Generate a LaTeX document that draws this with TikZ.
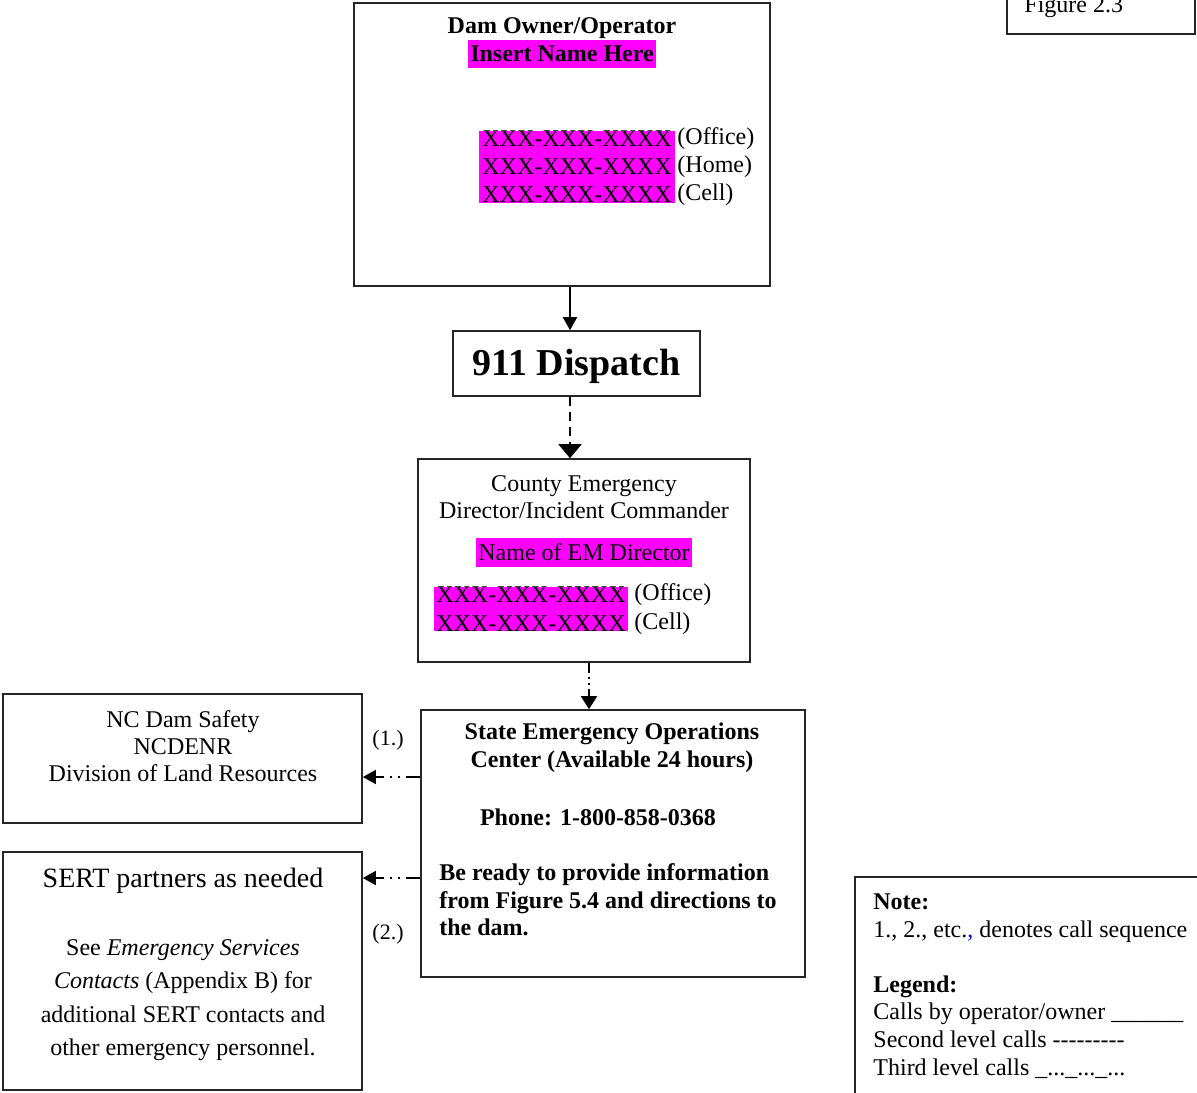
\documentclass[tikz,border=0pt]{standalone}
\usepackage{fontspec}
\setmainfont{Liberation Serif}
\usetikzlibrary{positioning,arrows.meta}

\definecolor{hotpink}{RGB}{255,0,255}
\tikzset{
	box/.style={draw=black!85, line width=0.8pt, rectangle, inner sep=0pt},
	hilite/.style={fill=hotpink, inner xsep=1pt, inner ysep=0pt},
	txt/.style={font=\fontsize{12}{13.5}\selectfont, inner sep=0pt},
	callhead/.style={-{Triangle[width=7pt,length=6.5pt]}},
}

\begin{document}
\begin{tikzpicture}[x=0.5pt, y=-0.5pt]
	\clip (0,0) rectangle (1197,1092);

	% boxes
	\node (owner) at (562,144.5) [box, minimum width=208pt, minimum height=141.5pt] {};
	\node (dispatch) at (576.5,363.5) [box, minimum width=123.5pt, minimum height=32.5pt] {};
	\node (county) at (584,560.5) [box, minimum width=166pt, minimum height=101.5pt] {};
	\node (state) at (613,843.5) [box, minimum width=192pt, minimum height=133.5pt] {};
	\node (dlr) at (182.5,758.5) [box, minimum width=179.5pt, minimum height=64.5pt] {};
	\node (sert) at (182.5,971) [box, minimum width=179.5pt, minimum height=119pt] {};
	\node (legend) at (1032.5,993.5) [box, minimum width=177.5pt, minimum height=116.5pt] {};
	\node (figbox) at (1101,2) [box, minimum width=94pt, minimum height=32pt] {};

	% dam owner
	\node (ownertitle) at (562,28) [txt, font=\fontsize{12}{13.5}\selectfont\bfseries] {Dam Owner/Operator};
	\node (ownername) at (562,54) [txt, hilite, minimum height=14pt, font=\fontsize{12}{13.5}\selectfont\bfseries] {Insert Name Here};
	\node (ownerphone) at (577,167) [txt, hilite, inner xsep=1.5pt, align=left, font=\fontsize{12}{14}\selectfont] {XXX-XXX-XXXX\\XXX-XXX-XXXX\\XXX-XXX-XXXX};
	\node (ownertag) [right=1pt of ownerphone, txt, align=left, font=\fontsize{12}{14}\selectfont] {(Office)\\(Home)\\(Cell)};

	% 911
	\node (dispatchtext) at (576.5,366) [txt, font=\fontsize{19}{22}\selectfont\bfseries] {911 Dispatch};

	% county
	\node (countytitle) at (584,497) [txt, align=center] {County Emergency\\Director/Incident Commander};
	\node (countyname) at (584,552) [txt, hilite, minimum height=14.5pt] {Name of EM Director};
	\node (countyphone) at (531,609) [txt, hilite, inner xsep=1pt, align=left, font=\fontsize{12}{14.5}\selectfont] {XXX-XXX-XXXX\\XXX-XXX-XXXX};
	\node (countytag) [right=3pt of countyphone, txt, align=left, font=\fontsize{12}{14.5}\selectfont] {(Office)\\(Cell)};

	% state
	\node (statetitle) at (612,748) [txt, align=center, font=\fontsize{12}{14}\selectfont\bfseries] {State Emergency Operations\\Center (Available 24 hours)};
	\node (statephone) at (598,817) [txt, font=\fontsize{12}{14}\selectfont\bfseries] {Phone: 1-800-858-0368};
	\node (stateinfo) at (439,900) [txt, anchor=west, align=left, font=\fontsize{12}{13.75}\selectfont\bfseries] {Be ready to provide information\\from Figure 5.4 and directions to\\the dam.};

	% dam safety
	\node (dlrtext) at (183,746) [txt, align=center] {NC Dam Safety\\NCDENR\\Division of Land Resources};

	% sert
	\node (serttitle) at (183,881) [txt, font=\fontsize{14}{16}\selectfont] {SERT partners as needed};
	\node (serttext) at (183,1000) [txt, align=center, font=\fontsize{12}{16.75}\selectfont] {See \emph{Emergency Services}\\\emph{Contacts} (Appendix B) for\\additional SERT contacts and\\other emergency personnel.};

	% legend
	\node (legendtext) at (873,986) [txt, anchor=west, align=left, font=\fontsize{12}{13.8}\selectfont] {\textbf{Note:}\\1., 2., etc.{\color{blue},} denotes call sequence\\[13.8pt]\textbf{Legend:}\\Calls by operator/owner \_\_\_\_\_\_\\Second level calls -{}-{}-{}-{}-{}-{}-{}-{}-\\Third level calls \_...\_...\_...};

	% figure tag
	\node (figtext) at (1024,12) [txt, anchor=base west] {Figure 2.3};

	% sequence labels
	\node (first) at (388,740) [txt, font=\fontsize{11}{13}\selectfont] {(1.)};
	\node (second) at (388,934) [txt, font=\fontsize{11}{13}\selectfont] {(2.)};

	\draw [callhead, line width=1pt] ([xshift=4pt]owner.south) -- ([xshift=4pt]owner.south |- dispatch.north);
	\draw [-{Triangle[width=11.5pt,length=7pt]}, line width=1pt, dash pattern=on 4.5pt off 3pt] ([xshift=-3.25pt]dispatch.south) -- ([xshift=-3.25pt]dispatch.south |- county.north);
	\draw [-{Triangle[width=8pt,length=6.5pt]}, line width=0.8pt, dash pattern=on 5pt off 2pt on 1pt off 2pt on 1pt off 2pt] ([xshift=2.5pt]county.south) -- ([xshift=2.5pt]county.south |- state.north);
	\draw [callhead, line width=0.8pt, dash pattern=on 7pt off 3pt on 1pt off 3pt on 1pt off 3pt] ([yshift=33.25pt]state.west) -- ([yshift=33.25pt]state.west -| dlr.east);
	\draw [callhead, line width=0.8pt, dash pattern=on 7pt off 3pt on 1pt off 3pt on 1pt off 3pt] ([yshift=-17.25pt]state.west) -- ([yshift=-17.25pt]state.west -| sert.east);
\end{tikzpicture}
\end{document}
